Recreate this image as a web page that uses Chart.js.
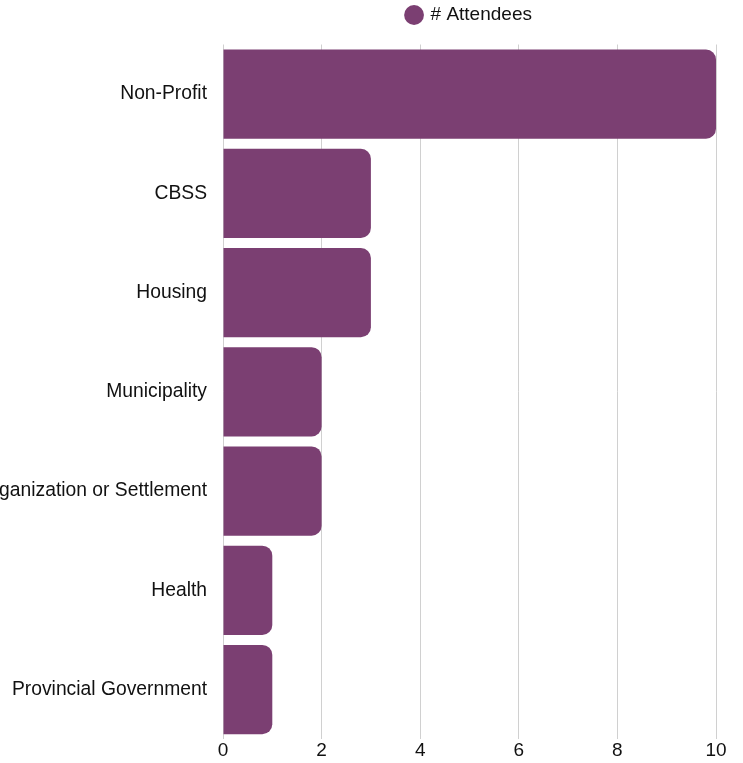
<!DOCTYPE html>
<html>
<head>
<meta charset="utf-8">
<script src="https://cdn.jsdelivr.net/npm/chart.js@4"></script>
<style>
  html, body { margin: 0; padding: 0; background: #fff; }
  .wrap { width: 743px; height: 763px; }
</style>
</head>
<body>
<div class="wrap"><canvas id="myChart"></canvas></div>
<script>
/* categories and counts */
const categories = [
  "Non-Profit",
  "CBSS",
  "Housing",
  "Municipality",
  "Indigenous Organization or Settlement",
  "Health",
  "Provincial Government"
];
const attendees = [10, 3, 3, 2, 2, 1, 1];
const xTicks = [0, 2, 4, 6, 8, 10];

Chart.defaults.font.family = "'Liberation Sans', Arial, sans-serif";
Chart.defaults.font.size = 19;
Chart.defaults.color = "#111";

/* leave a bit more room under the legend */
const legendSpace = {
  id: "legendSpace",
  beforeInit(chart) {
    const fit = chart.legend.fit;
    chart.legend.fit = function () {
      fit.bind(chart.legend)();
      this.height += 10;
    };
  },
};

const data = {
  labels: categories,
  datasets: [
    {
      label: "# Attendees",
      data: attendees,
      backgroundColor: "#7b3f72",
      borderRadius: 10,
      barPercentage: 0.9,
      categoryPercentage: 1.0,
    },
  ],
};

const config = {
  type: "bar",
  data: data,
  plugins: [legendSpace],
  options: {
    indexAxis: "y",
    responsive: true,
    maintainAspectRatio: false,
    animation: false,
    layout: { padding: { right: 27, bottom: 1 } },
    plugins: {
      legend: {
        fullSize: false,
        labels: { usePointStyle: true, pointStyle: "circle", boxWidth: 14, boxHeight: 14, padding: 5.5 },
      },
      tooltip: { enabled: false },
    },
    scales: {
      x: {
        min: 0,
        max: 10,
        afterBuildTicks: (s) => { s.ticks = xTicks.map((v) => ({ value: v })); },
        grid: { color: "#d0d0d0", drawTicks: false, tickLength: 0 },
        border: { display: false },
        ticks: { padding: 0 },
      },
      y: {
        grid: { display: false },
        border: { display: false },
        ticks: { padding: 8, font: { size: 19.3 } },
        afterFit: (s) => { s.width = 223; },
      },
    },
  },
};

const myChart = new Chart(document.getElementById("myChart"), config);
</script>
</body>
</html>
